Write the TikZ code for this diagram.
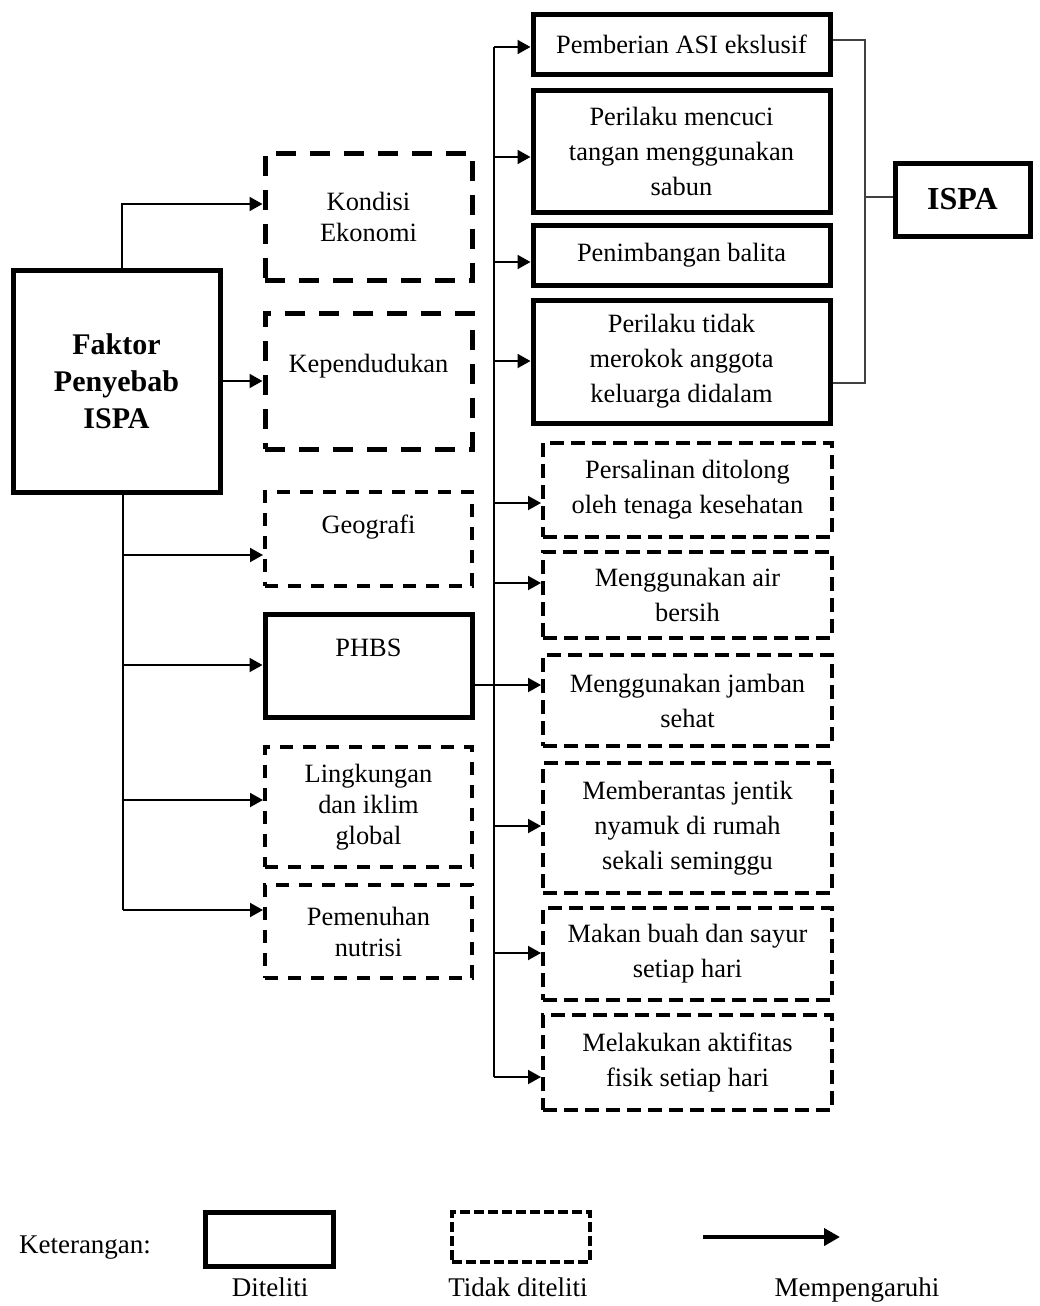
\documentclass[tikz,border=0pt]{standalone}
\usepackage{fontspec}
\setmainfont{Liberation Serif}
\usetikzlibrary{arrows.meta}
\usetikzlibrary{positioning}

\tikzset{
  teks/.style={font=\fontsize{13.2}{17.5}\selectfont},
  tekskiri/.style={font=\fontsize{13.2}{15.5}\selectfont},
  diteliti/.style={draw,line width=2.5pt,align=center,inner sep=2pt,teks},
  tidak/.style={draw,line width=2pt,dash pattern=on 7pt off 3.5pt,align=center,inner sep=2pt,teks},
  tidakkiri/.style={tidak,dash pattern=on 6.5pt off 5pt,tekskiri},
  tidaklebar/.style={tidak,line width=2.5pt,dash pattern=on 10pt off 7pt,tekskiri},
  garis/.style={line width=1pt},
  panah/.style={line width=1pt,-{Triangle[length=6.5pt,width=7pt]}},
  kurung/.style={line width=0.8pt,black!75},
  ketlabel/.style={font=\fontsize{13.5}{16}\selectfont,anchor=base,inner sep=0pt},
}

\begin{document}
\begin{tikzpicture}[x=0.5pt,y=-0.5pt]
\useasboundingbox (0,0) rectangle (1039,1306);

% kolom kiri dan tengah
\node[diteliti,font=\fontsize{15}{18.5}\selectfont\bfseries,minimum width=103.5pt,minimum height=111pt] (faktor) at (116.5,381) {Faktor\\Penyebab\\ISPA};
\node[tidaklebar,minimum width=103.5pt,minimum height=63.5pt] (kondisi) at (368.5,216.5) {Kondisi\\Ekonomi};
\node[tidaklebar,minimum width=103.5pt,minimum height=68pt,text depth=18pt] (kependudukan) at (368.5,381) {Kependudukan};
\node[tidakkiri,minimum width=103.5pt,minimum height=47pt,text depth=15pt] (geografi) at (368.5,539) {Geografi};
\node[diteliti,minimum width=103.5pt,minimum height=51.5pt,text depth=18pt] (phbs) at (368.5,665.5) {PHBS};
\node[tidakkiri,minimum width=103.5pt,minimum height=60pt] (lingkungan) at (368.5,807) {Lingkungan\\dan iklim\\global};
\node[tidakkiri,minimum width=103.5pt,minimum height=46.5pt] (nutrisi) at (368.5,931.5) {Pemenuhan\\nutrisi};

% kolom kanan
\node[diteliti,minimum width=148.5pt,minimum height=30pt] (asi) at (681.5,44) {Pemberian ASI ekslusif};
\node[diteliti,minimum width=148.5pt,minimum height=61pt] (cuci) at (681.5,151) {Perilaku mencuci\\tangan menggunakan\\sabun};
\node[diteliti,minimum width=148.5pt,minimum height=30pt] (timbang) at (681.5,255) {Penimbangan balita};
\node[diteliti,minimum width=148.5pt,minimum height=61.5pt] (rokok) at (681.5,361.5) {Perilaku tidak\\merokok anggota\\keluarga didalam};
\node[tidak,minimum width=144.5pt,minimum height=47pt] (salin) at (687.5,490) {Persalinan ditolong\\oleh tenaga kesehatan};
\node[tidak,minimum width=144.5pt,minimum height=43pt] (air) at (687.5,595) {Menggunakan air\\bersih};
\node[tidak,minimum width=144.5pt,minimum height=45.5pt] (jamban) at (687.5,700.5) {Menggunakan jamban\\sehat};
\node[tidak,minimum width=144.5pt,minimum height=65pt] (jentik) at (687.5,828) {Memberantas jentik\\nyamuk di rumah\\sekali seminggu};
\node[tidak,minimum width=144.5pt,minimum height=46pt] (buah) at (687.5,954) {Makan buah dan sayur\\setiap hari};
\node[tidak,minimum width=144.5pt,minimum height=47.5pt] (fisik) at (687.5,1062.5) {Melakukan aktifitas\\fisik setiap hari};

\node[diteliti,font=\fontsize{16}{19}\selectfont\bfseries,minimum width=67.5pt,minimum height=36.5pt] (ispa) at (962.5,199.5) {ISPA};

% panah dari faktor penyebab
\coordinate (kiriatas) at (122,204);
\coordinate (kiribawah) at (123,910);
\draw[panah] (faktor.north -| kiriatas) |- (kondisi.west |- kiriatas);
\draw[panah] (faktor.east) -- (kependudukan.west);
\draw[garis] (faktor.south -| kiribawah) -- (kiribawah);
\foreach \n/\y in {geografi/555,phbs/665,lingkungan/800,nutrisi/910}
  \draw[panah] (kiribawah |- 0,\y) -- (\n.west |- 0,\y);

% panah dari PHBS
\coordinate (tulang) at (494,47);
\coordinate (tulangbawah) at (494,1077);
\draw[garis] (tulang) -- (tulangbawah);
\foreach \n/\y in {asi/47,cuci/157,timbang/262,rokok/361,salin/503,air/583,jentik/826,buah/953,fisik/1077}
  \draw[panah] (tulang |- 0,\y) -- (\n.west |- 0,\y);
\draw[panah] (phbs.east |- 0,685) -- (jamban.west |- 0,685);

% kurung ke ISPA
\coordinate (kurung) at (865,197);
\draw[kurung] (asi.east |- 0,40) -- (kurung |- 0,40) -- (kurung |- 0,383) -- (rokok.east |- 0,383);
\draw[kurung] (kurung) -- (ispa.west |- kurung);

% keterangan
\node[font=\fontsize{13.5}{16}\selectfont] (ket) at (85,1248) {Keterangan:};
\node[diteliti,minimum width=64pt,minimum height=27pt] (legteliti) at (269,1239) {};
\node[tidak,dash pattern=on 5pt off 2pt,minimum width=69pt,minimum height=25pt] (legtidak) at (521,1237) {};
\coordinate (legpanahA) at (703,1237);
\coordinate (legpanahB) at (840,1237);
\draw[line width=2pt,-{Triangle[length=8pt,width=8.5pt]}] (legpanahA) -- (legpanahB);
\node[ketlabel] (labteliti) at (270,1296) {Diteliti};
\node[ketlabel] (labtidak) at (518,1296) {Tidak diteliti};
\node[ketlabel] (labpanah) at (857,1296) {Mempengaruhi};

\end{tikzpicture}
\end{document}
